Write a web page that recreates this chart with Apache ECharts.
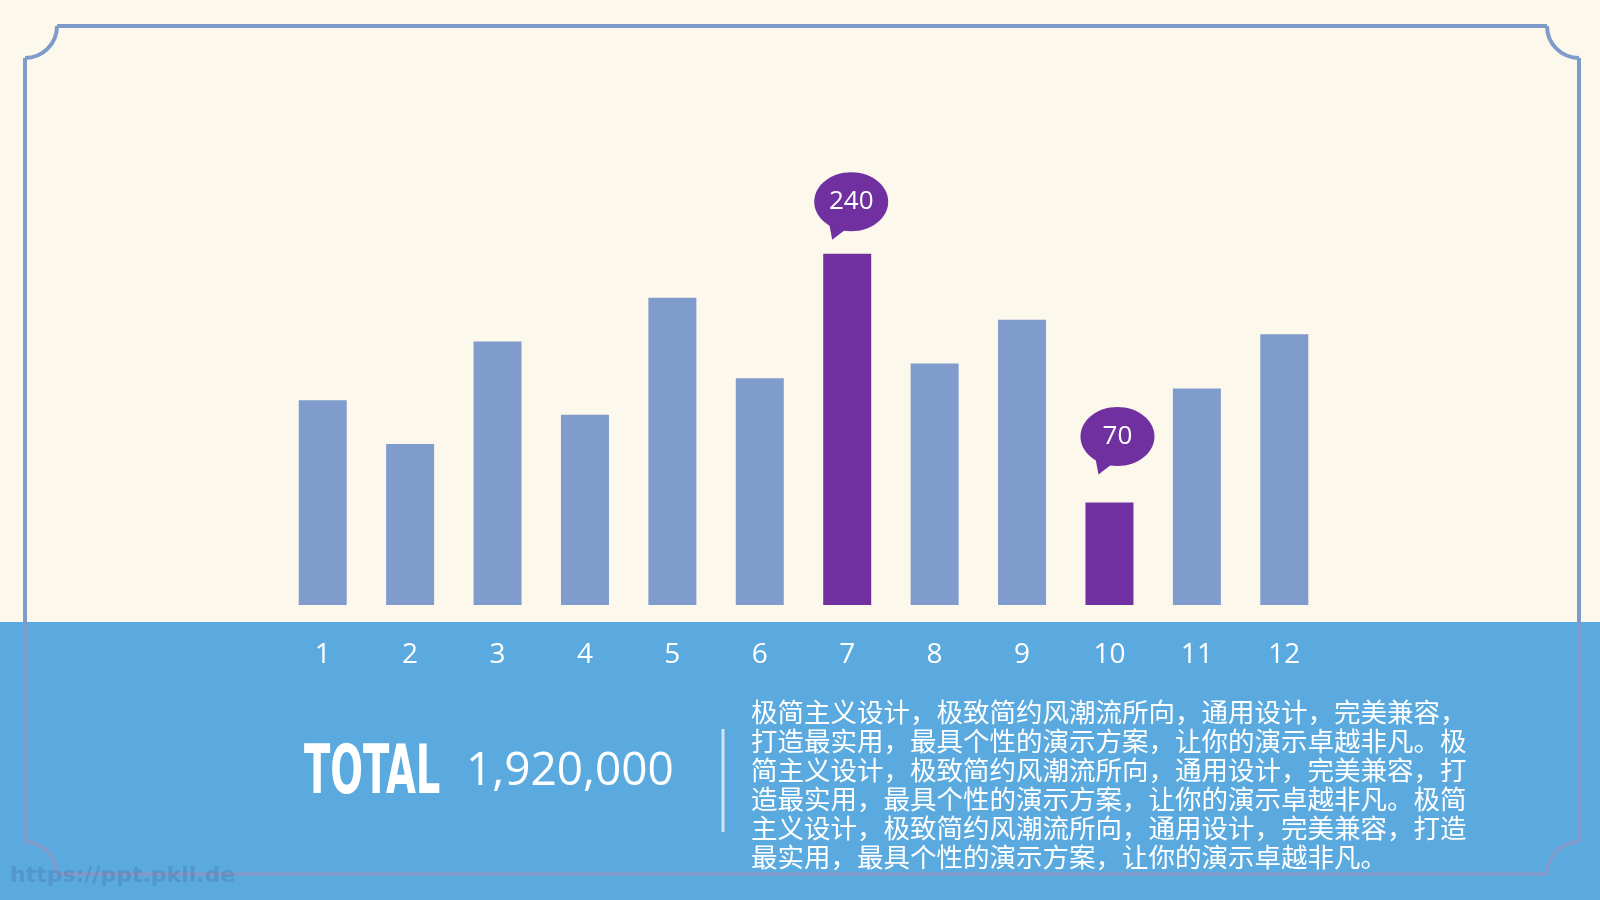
<!DOCTYPE html>
<html>
<head>
<meta charset="utf-8">
<title>TOTAL 1,920,000</title>
<style>
  html, body { margin: 0; padding: 0; background: #fcf8ec; }
  #chart { width: 1600px; height: 900px; }
</style>
<script src="https://cdn.jsdelivr.net/npm/echarts@6/dist/echarts.min.js"></script>
</head>
<body>
<div id="chart"></div>
<script>
// 数据
const months = ['1', '2', '3', '4', '5', '6', '7', '8', '9', '10', '11', '12']
const values = [140, 110, 180, 130, 210, 155, 240, 165, 195, 70, 148, 185]
const highlighted = [6, 9] // 第7、第10根柱子高亮并带气泡
const totalLabel = 'TOTAL'
const totalValue = '1,920,000'
const paragraph = [
  '极简主义设计，极致简约风潮流所向，通用设计，完美兼容，',
  '打造最实用，最具个性的演示方案，让你的演示卓越非凡。极',
  '简主义设计，极致简约风潮流所向，通用设计，完美兼容，打',
  '造最实用，最具个性的演示方案，让你的演示卓越非凡。极简',
  '主义设计，极致简约风潮流所向，通用设计，完美兼容，打造',
  '最实用，最具个性的演示方案，让你的演示卓越非凡。',
]
const watermark = 'https://ppt.pkll.de'

const BAR = '#7f9ccd'
const PURPLE = '#7030a0'
const BAND = '#5aaae0'
const FRAME = '#7f9bcb'

// 气泡相对柱顶的偏移
const bubbleShift = { 6: [4, -52], 9: [8, -66] }

const chart = echarts.init(document.getElementById('chart'))

// 边框：四条直线 + 四个内凹圆角
const L = 25, T = 26, R = 1579, B = 874, r = 32
const frameStyle = { stroke: FRAME, lineWidth: 4, fill: null }
const frame = [
  { type: 'line', shape: { x1: L + r, y1: T, x2: R - r, y2: T } },
  { type: 'line', shape: { x1: L + r, y1: B, x2: R - r, y2: B } },
  { type: 'line', shape: { x1: L, y1: T + r, x2: L, y2: B - r } },
  { type: 'line', shape: { x1: R, y1: T + r, x2: R, y2: B - r } },
  { type: 'arc', shape: { cx: L, cy: T, r, startAngle: 0, endAngle: Math.PI / 2 } },
  { type: 'arc', shape: { cx: R, cy: T, r, startAngle: Math.PI / 2, endAngle: Math.PI } },
  { type: 'arc', shape: { cx: R, cy: B, r, startAngle: Math.PI, endAngle: Math.PI * 1.5 } },
  { type: 'arc', shape: { cx: L, cy: B, r, startAngle: Math.PI * 1.5, endAngle: Math.PI * 2 } },
].map(e => Object.assign(e, { style: frameStyle, z: 5, silent: true }))

const options = {
  backgroundColor: '#fcf8ec',
  animation: false,
  grid: {
    left: 279,
    width: 1049,
    top: 166,
    height: 439,
  },
  xAxis: {
    type: 'category',
    data: months,
    z: 10,
    axisLine: { show: false },
    axisTick: { show: false },
    axisLabel: {
      margin: 36,
      color: '#fff',
      fontSize: 28,
      fontFamily: '"Open Sans", "Noto Sans", sans-serif',
    },
  },
  yAxis: {
    type: 'value',
    min: 0,
    max: 300,
    show: false,
  },
  graphic: {
    elements: [
      {
        type: 'rect',
        shape: { x: 0, y: 622, width: 1600, height: 278 },
        style: { fill: BAND },
        z: 0,
        silent: true,
      },
      ...frame,
      {
        type: 'text',
        x: 304,
        y: 775,
        scaleX: 0.63,
        z: 10,
        style: {
          text: totalLabel,
          fill: '#fff',
          font: 'bold 68px "Liberation Sans Narrow", "DejaVu Sans Condensed", sans-serif',
          textAlign: 'left',
          textVerticalAlign: 'middle',
        },
      },
      {
        type: 'text',
        x: 466,
        y: 772,
        z: 10,
        style: {
          text: totalValue,
          fill: '#fff',
          font: '46px "Open Sans", "Noto Sans", sans-serif',
          textAlign: 'left',
          textVerticalAlign: 'middle',
        },
      },
      {
        type: 'rect',
        shape: { x: 721.5, y: 729, width: 3, height: 103 },
        style: { fill: 'rgba(255,255,255,0.7)' },
        z: 10,
      },
      {
        type: 'text',
        x: 751,
        y: 697,
        z: 10,
        style: {
          text: paragraph.join('\n'),
          fill: '#fff',
          font: '26.5px "Noto Sans CJK SC", sans-serif',
          lineHeight: 29,
          textAlign: 'left',
          textVerticalAlign: 'top',
        },
      },
      {
        type: 'text',
        x: 10,
        y: 876,
        z: 10,
        style: {
          text: watermark,
          fill: 'rgba(70,120,170,0.4)',
          font: 'bold 22px "DejaVu Sans", sans-serif',
          textAlign: 'left',
          textVerticalAlign: 'middle',
        },
      },
    ],
  },
  series: [
    {
      type: 'bar',
      data: values,
      barWidth: 48,
      z: 2,
      itemStyle: {
        color: (p) => (highlighted.includes(p.dataIndex) ? PURPLE : BAR),
      },
    },
    {
      // 气泡标注
      type: 'custom',
      z: 6,
      data: highlighted.map(i => [i, values[i]]),
      renderItem: (params, api) => {
        const idx = api.value(0)
        const top = api.coord([idx, api.value(1)])
        const shift = bubbleShift[idx] || [6, -58]
        const cx = top[0] + shift[0]
        const cy = top[1] + shift[1]
        return {
          type: 'group',
          children: [
            {
              type: 'polygon',
              shape: { points: [[cx - 22, cy + 22], [cx - 19, cy + 38], [cx - 6, cy + 28]] },
              style: { fill: PURPLE },
            },
            {
              type: 'ellipse',
              shape: { cx, cy, rx: 37, ry: 29.5 },
              style: { fill: PURPLE },
            },
            {
              type: 'text',
              x: cx,
              y: cy,
              style: {
                text: String(api.value(1)),
                fill: '#fff',
                font: '26px "Open Sans", "Noto Sans", sans-serif',
                textAlign: 'center',
                textVerticalAlign: 'middle',
              },
            },
          ],
        }
      },
    },
  ],
}

chart.setOption(options)
</script>
</body>
</html>
